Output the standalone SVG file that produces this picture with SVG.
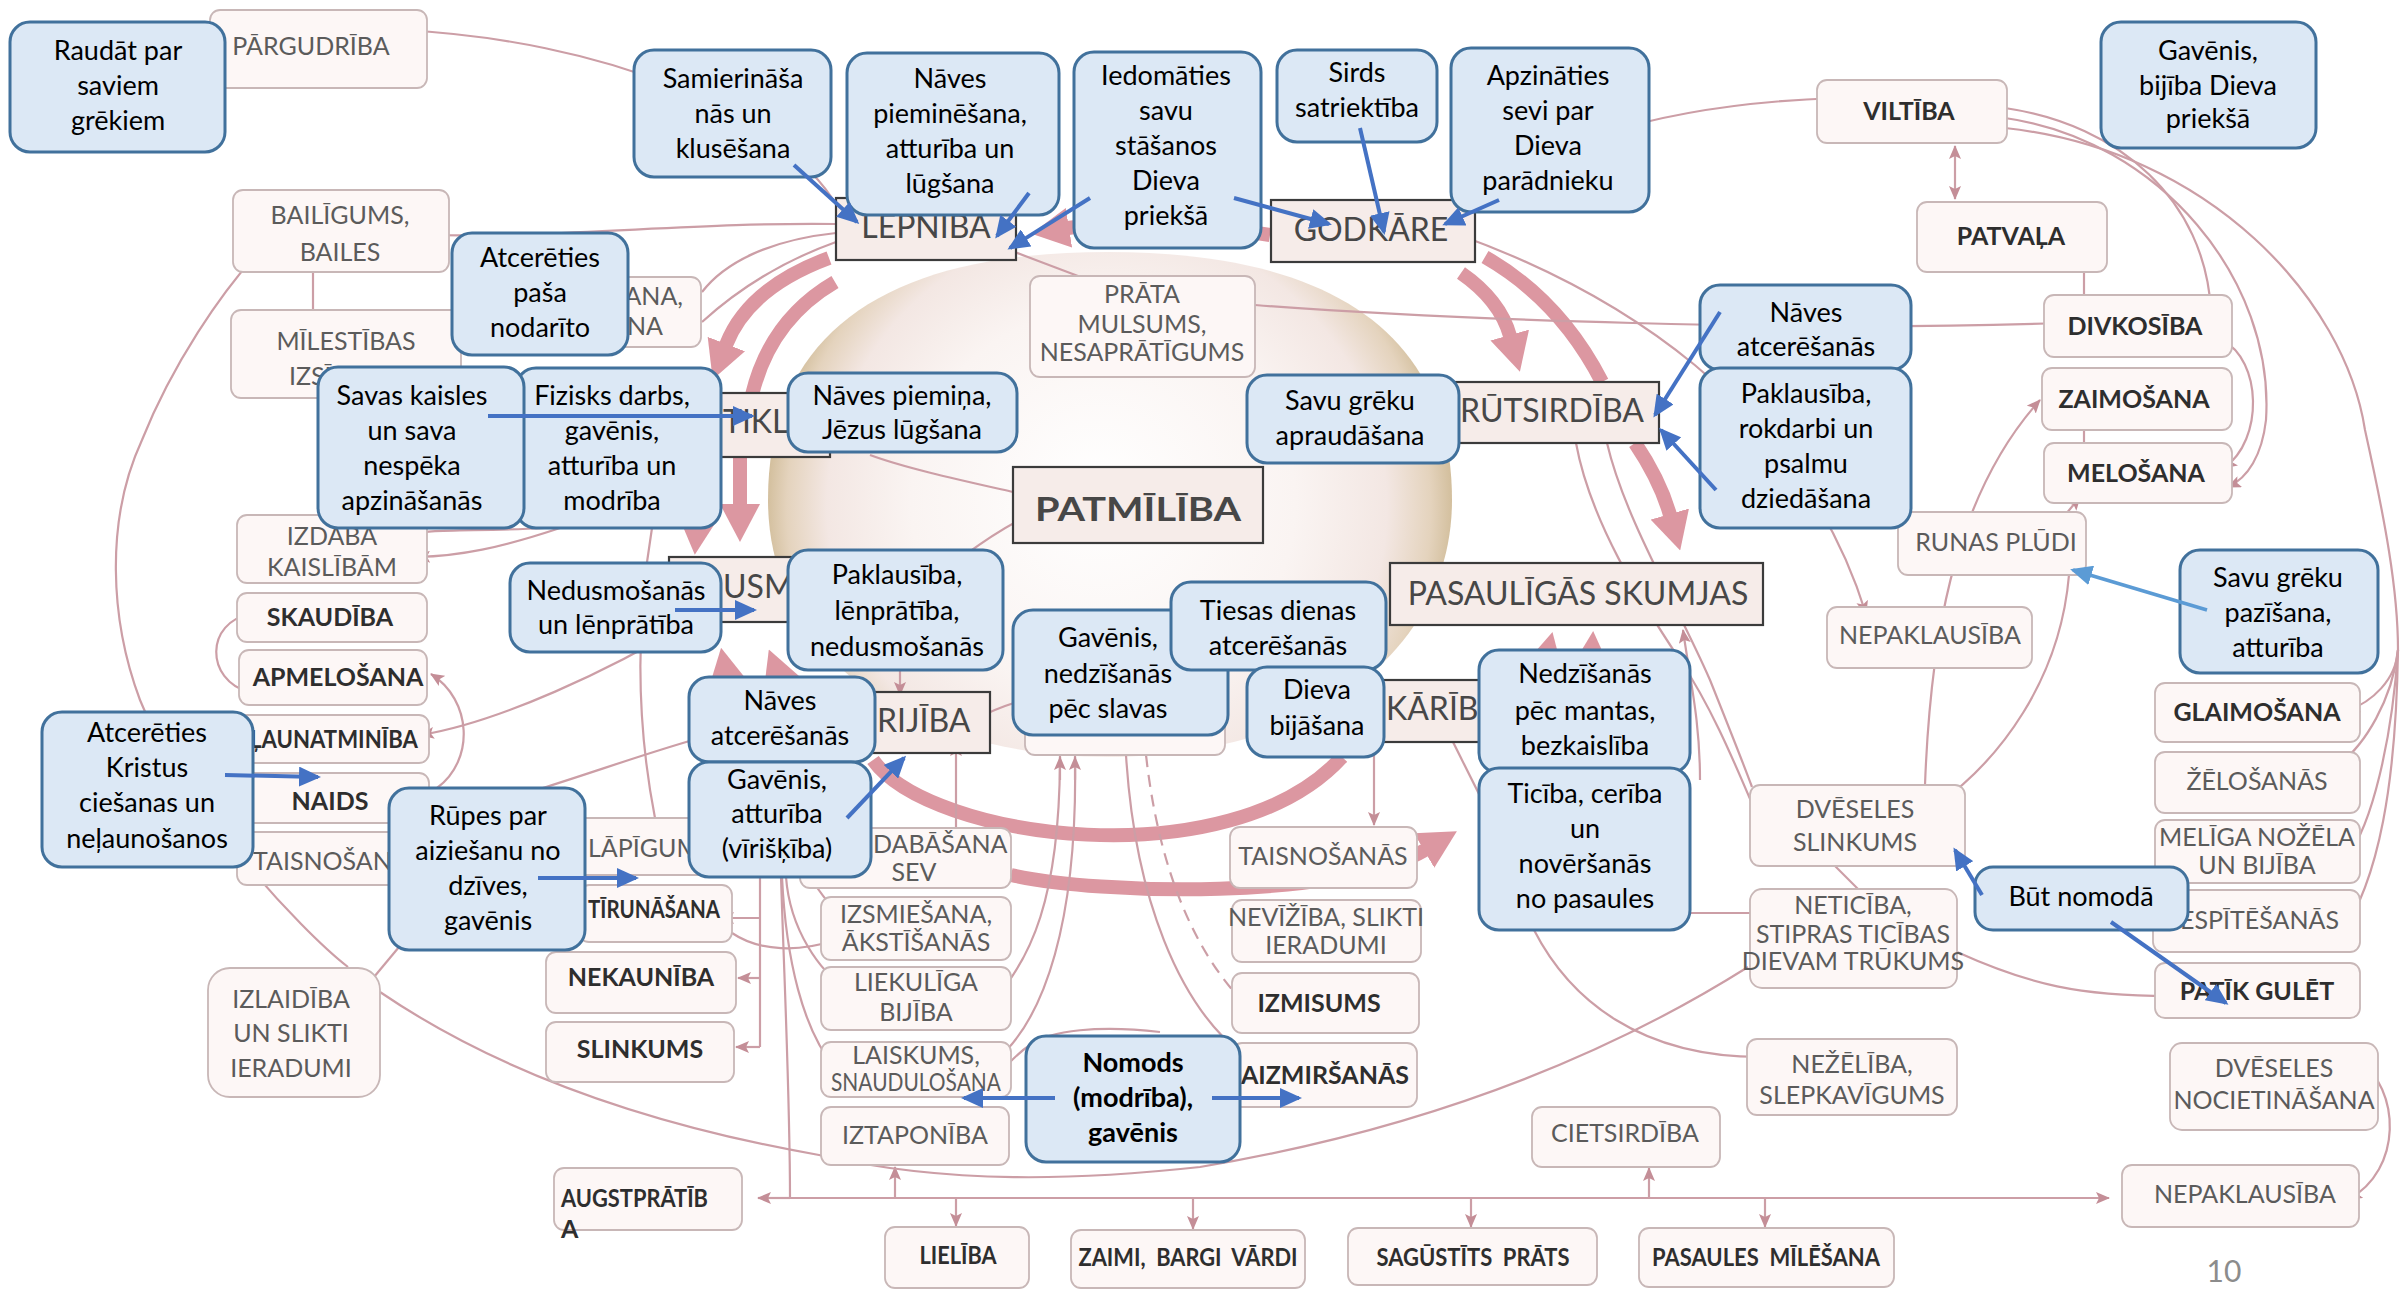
<svg xmlns="http://www.w3.org/2000/svg" width="2402" height="1290" viewBox="0 0 2402 1290">
<defs>
<style>
.cb{fill:#dce8f5;stroke:#41719c;stroke-width:3}
.ct{font-family:Lato,'Noto Sans','DejaVu Sans',sans-serif;font-size:27px;fill:#000;text-anchor:middle}
.bd{font-weight:bold}
.nb{fill:#fdf7f6;stroke:#c8b7b7;stroke-width:1.8}
.nt{font-family:Lato,'Noto Sans','DejaVu Sans',sans-serif;font-size:25px;fill:#5b5b5b;text-anchor:middle}
.nk{font-weight:bold;fill:#2e2e2e}
.mb{fill:#f6ece9;stroke:#3b3b3b;stroke-width:2.2}
.mt{font-family:Lato,'Noto Sans','DejaVu Sans',sans-serif;font-size:32px;fill:#474747}
.s{text-anchor:start}
.e{text-anchor:end}
.m{text-anchor:middle}
.pl{fill:none;stroke:#cc9ea6;stroke-width:2.2}
.tk{fill:none;stroke:#dc97a1;stroke-width:14}
.bl{fill:none;stroke:#4472c4;stroke-width:4}
</style>
<radialGradient id="sph" gradientUnits="userSpaceOnUse" cx="1110" cy="510" r="350" fx="1095" fy="490">
<stop offset="0" stop-color="#ffffff"/>
<stop offset="0.55" stop-color="#faf4f2"/>
<stop offset="0.8" stop-color="#f3e7e3"/>
<stop offset="0.92" stop-color="#e4d3bd"/>
<stop offset="1" stop-color="#cdb892"/>
</radialGradient>
<marker id="pa" viewBox="0 0 14 12" refX="13" refY="6" markerWidth="14" markerHeight="12" markerUnits="userSpaceOnUse" orient="auto-start-reverse"><path d="M0,0 L14,6 L0,12 L3,6 z" fill="#c48e97"/></marker>
<marker id="ba" viewBox="0 0 22 20" refX="19" refY="10" markerWidth="22" markerHeight="20" markerUnits="userSpaceOnUse" orient="auto"><path d="M0,0 L22,10 L0,20 z" fill="#4472c4"/></marker>
<marker id="bb" viewBox="0 0 22 20" refX="19" refY="10" markerWidth="22" markerHeight="20" markerUnits="userSpaceOnUse" orient="auto"><path d="M0,0 L22,10 L0,20 z" fill="#5b9bd5"/></marker>
<marker id="tk" viewBox="0 0 38 40" refX="1" refY="20" markerWidth="38" markerHeight="40" markerUnits="userSpaceOnUse" orient="auto"><path d="M0,0 L38,20 L0,40 z" fill="#dc97a1"/></marker>
</defs>
<rect width="2402" height="1290" fill="#ffffff"/>

<g id="sphere">
<path d="M768,500 C768,330 890,252 1108,252 C1326,252 1452,330 1452,500 C1452,640 1330,755 1108,757 C886,755 768,640 768,500 Z" fill="url(#sph)"/>
</g>

<g id="connectors">
<g id="thick-arrows">
<path class="tk" d="M829,258 Q748,288 726,345" marker-end="url(#tk)"/>
<path class="tk" d="M835,282 Q770,320 752,395"/>
<path class="tk" d="M705,470 Q700,495 698,518" marker-end="url(#tk)"/>
<path class="tk" d="M740,457 L740,505" marker-end="url(#tk)"/>
<path class="tk" d="M740,730 Q732,705 728,684" marker-end="url(#tk)"/>
<path class="tk" d="M800,730 Q790,705 782,684" marker-end="url(#tk)"/>
<path class="tk" d="M1461,273 Q1500,300 1510,336" marker-end="url(#tk)"/>
<path class="tk" d="M1485,257 Q1560,300 1602,382"/>
<path class="tk" d="M1635,443 Q1660,480 1670,515" marker-end="url(#tk)"/>
<path class="tk" d="M1270,235 Q1150,215 1068,228" marker-end="url(#tk)"/>
<path class="tk" d="M1530,700 Q1540,685 1544,668" marker-end="url(#tk)"/>
<path class="tk" d="M1585,700 Q1590,685 1591,668" marker-end="url(#tk)"/>
<path class="tk" d="M873,760 C930,840 1230,880 1342,757"/>
<path class="tk" d="M1011,875 C1100,895 1340,900 1425,850" marker-end="url(#tk)"/>
</g>
<g id="thin-lines">
<path class="pl" d="M837,206 C780,110 600,40 402,30" marker-end="url(#pa)"/>
<path class="pl" d="M836,224 C700,222 560,238 426,235" marker-end="url(#pa)"/>
<path class="pl" d="M836,233 C770,240 725,262 702,292"/>
<path class="pl" d="M836,242 C780,262 735,292 702,322"/>
<path class="pl" d="M1004,248 C1030,258 1052,266 1078,276"/>
<path class="pl" d="M1462,205 C1540,150 1640,105 1836,98" marker-end="url(#pa)"/>
<path class="pl" d="M1462,236 C1610,290 1800,400 1866,614" marker-end="url(#pa)"/>
<path class="pl" d="M1255,305 C1450,320 1800,332 2060,323" marker-end="url(#pa)"/>
<path class="pl" d="M1955,146 L1955,199" marker-start="url(#pa)" marker-end="url(#pa)"/>
<path class="pl" d="M2084,272 L2084,312" marker-end="url(#pa)"/>
<path class="pl" d="M2084,430 L2084,457" marker-end="url(#pa)"/>
<path class="pl" d="M2005,108 C2120,125 2205,200 2211,311" marker-end="url(#pa)"/>
<path class="pl" d="M2005,118 C2160,140 2275,280 2266,420 C2262,455 2248,478 2228,487" marker-end="url(#pa)"/>
<path class="pl" d="M2222,340 C2262,360 2264,440 2224,468" marker-end="url(#pa)"/>
<path class="pl" d="M2005,128 C2210,150 2345,300 2365,430 C2385,520 2398,590 2398,650"/>
<path class="pl" d="M2398,650 C2396,680 2372,702 2347,711" marker-end="url(#pa)"/>
<path class="pl" d="M2398,650 C2392,700 2365,745 2339,764" marker-end="url(#pa)"/>
<path class="pl" d="M2398,650 C2392,740 2372,825 2347,857" marker-end="url(#pa)"/>
<path class="pl" d="M2398,650 C2396,780 2380,880 2339,938" marker-end="url(#pa)"/>
<path class="pl" d="M2061,520 L2080,497" marker-end="url(#pa)"/>
<path class="pl" d="M1925,785 C1930,650 1950,500 2040,400" marker-end="url(#pa)"/>
<path class="pl" d="M2069,575 C2060,680 2000,760 1937,805" marker-end="url(#pa)"/>
<path class="pl" d="M1957,952 C2030,985 2080,996 2170,996" marker-end="url(#pa)"/>
<path class="pl" d="M2357,1058 C2402,1090 2402,1170 2349,1199" marker-end="url(#pa)"/>
<path class="pl" d="M790,1198 L758,1198" marker-end="url(#pa)"/>
<path class="pl" d="M790,1198 L2109,1198" marker-end="url(#pa)"/>
<path class="pl" d="M781,877 C785,1000 790,1100 790,1198"/>
<path class="pl" d="M895,1198 L895,1167" marker-end="url(#pa)"/>
<path class="pl" d="M956,1198 L956,1226" marker-end="url(#pa)"/>
<path class="pl" d="M1193,1198 L1193,1229" marker-end="url(#pa)"/>
<path class="pl" d="M1471,1198 L1471,1227" marker-end="url(#pa)"/>
<path class="pl" d="M1649,1198 L1649,1168" marker-end="url(#pa)"/>
<path class="pl" d="M1765,1198 L1765,1227" marker-end="url(#pa)"/>
<path class="pl" d="M1690,913 L1750,913"/>
<path class="pl" d="M1534,930 C1570,1000 1640,1057 1761,1057" marker-end="url(#pa)"/>
<path class="pl" d="M380,992 C480,1060 620,1120 819,1155 C950,1185 1080,1180 1200,1167 C1420,1130 1600,1060 1748,967"/>
<path class="pl" d="M374,977 L399,947"/>
<path class="pl" d="M348,967 C300,930 180,800 140,700 C110,620 105,520 142,440 C170,370 220,290 271,239" marker-end="url(#pa)"/>
<path class="pl" d="M249,692 C205,680 205,622 251,614" marker-end="url(#pa)"/>
<path class="pl" d="M437,788 C475,760 472,700 431,674" marker-end="url(#pa)"/>
<path class="pl" d="M690,622 C610,670 500,722 421,735" marker-end="url(#pa)"/>
<path class="pl" d="M700,738 C650,752 600,770 546,787 C520,795 500,800 470,808"/>
<path class="pl" d="M560,528 C500,548 460,556 417,557" marker-end="url(#pa)"/>
<path class="pl" d="M545,528 C470,532 430,528 401,536" marker-end="url(#pa)"/>
<path class="pl" d="M652,528 C640,600 632,700 655,818"/>
<path class="pl" d="M760,877 L760,1047"/>
<path class="pl" d="M760,918 L721,918" marker-end="url(#pa)"/>
<path class="pl" d="M760,978 L738,978" marker-end="url(#pa)"/>
<path class="pl" d="M760,1047 L736,1047" marker-end="url(#pa)"/>
<path class="pl" d="M810,877 C820,893 830,905 839,915" marker-end="url(#pa)"/>
<path class="pl" d="M786,877 C790,930 820,972 847,989" marker-end="url(#pa)"/>
<path class="pl" d="M782,877 C786,960 803,1030 835,1068" marker-end="url(#pa)"/>
<path class="pl" d="M732,933 C760,952 800,952 835,940" marker-end="url(#pa)"/>
<path class="pl" d="M1060,755 C1060,900 1030,960 993,1001" marker-end="url(#pa)"/>
<path class="pl" d="M1075,755 C1078,920 1045,1020 995,1061" marker-end="url(#pa)"/>
<path class="pl" d="M1060,780 L1060,757" marker-end="url(#pa)"/>
<path class="pl" d="M1075,780 L1075,757" marker-end="url(#pa)"/>
<path class="pl" d="M1126,755 C1135,900 1180,1005 1241,1053" marker-end="url(#pa)"/>
<path class="pl" d="M1146,755 C1160,880 1200,960 1249,1008" stroke-dasharray="12,8" marker-end="url(#pa)"/>
<path class="pl" d="M1160,1032 C1100,1025 1050,1030 1030,1045 C1015,1055 1005,1067 997,1078" marker-end="url(#pa)"/>
<path class="pl" d="M900,670 L900,695" marker-end="url(#pa)"/>
<path class="pl" d="M1030,698 C1005,705 988,712 974,720" marker-end="url(#pa)"/>
<path class="pl" d="M956,828 L956,743" marker-end="url(#pa)"/>
<path class="pl" d="M1013,492 C960,480 905,468 870,455"/>
<path class="pl" d="M1023,518 C1000,530 985,540 965,555"/>
<path class="pl" d="M1374,742 L1374,825" marker-end="url(#pa)"/>
<path class="pl" d="M1453,742 L1482,800"/>
<path class="pl" d="M1576,443 C1590,520 1640,600 1680,660 C1720,720 1745,790 1767,838" marker-end="url(#pa)"/>
<path class="pl" d="M1607,443 C1625,520 1680,610 1710,680 C1730,730 1742,760 1752,787"/>
<path class="pl" d="M1700,780 C1700,720 1690,680 1683,630" marker-end="url(#pa)"/>
<path class="pl" d="M1835,866 L1858,889"/>
<path class="pl" d="M313,272 L313,310"/>
</g>
</g>

<g id="nodes">
<g id="n-pargudriba"><rect class="nb" x="210" y="10" width="217" height="78" rx="10"/><text class="nt" x="311" y="55" font-size="28">PĀRGUDRĪBA</text></g>
<g id="n-bailigums"><rect class="nb" x="233" y="190" width="216" height="82" rx="10"/><text class="nt" x="340" y="224" font-size="30">BAILĪGUMS,</text><text class="nt" x="340" y="261" font-size="30">BAILES</text></g>
<g id="n-milestibas"><rect class="nb" x="231" y="310" width="230" height="88" rx="10"/><text class="nt" x="346" y="350" font-size="26">MĪLESTĪBAS</text><text class="nt s" x="289" y="385" font-size="26">IZSĪ</text></g>
<g id="n-ana"><rect class="nb" x="580" y="277" width="121" height="70" rx="10"/><text class="nt e" x="683" y="305">ANA,</text><text class="nt e" x="663" y="335">NA</text></g>
<g id="n-prata"><rect class="nb" x="1030" y="276" width="225" height="101" rx="10"/><text class="nt" x="1142" y="303" font-size="20">PRĀTA</text><text class="nt" x="1142" y="333" font-size="20">MULSUMS,</text><text class="nt" x="1142" y="361" font-size="19">NESAPRĀTĪGUMS</text></g>
<g id="n-viltiba"><rect class="nb" x="1817" y="80" width="190" height="63" rx="10"/><text class="nt nk" x="1909" y="120">VILTĪBA</text></g>
<g id="n-patvala"><rect class="nb" x="1917" y="202" width="190" height="70" rx="10"/><text class="nt nk" x="2011" y="245">PATVAĻA</text></g>
<g id="n-divkosiba"><rect class="nb" x="2044" y="295" width="188" height="62" rx="10"/><text class="nt nk" x="2135" y="335">DIVKOSĪBA</text></g>
<g id="n-zaimosana"><rect class="nb" x="2042" y="368" width="190" height="62" rx="10"/><text class="nt nk" x="2134" y="408">ZAIMOŠANA</text></g>
<g id="n-melosana"><rect class="nb" x="2044" y="443" width="188" height="60" rx="10"/><text class="nt nk" x="2136" y="482">MELOŠANA</text></g>
<g id="n-runas"><rect class="nb" x="1898" y="512" width="188" height="63" rx="10"/><text class="nt" x="1996" y="551">RUNAS PLŪDI</text></g>
<g id="n-nepaklausiba1"><rect class="nb" x="1827" y="607" width="205" height="61" rx="10"/><text class="nt" x="1930" y="644">NEPAKLAUSĪBA</text></g>
<g id="n-glaimosana"><rect class="nb" x="2155" y="683" width="205" height="59" rx="10"/><text class="nt nk" x="2257" y="721">GLAIMOŠANA</text></g>
<g id="n-zelosanas"><rect class="nb" x="2155" y="752" width="205" height="61" rx="10"/><text class="nt" x="2257" y="790">ŽĒLOŠANĀS</text></g>
<g id="n-meliga"><rect class="nb" x="2155" y="820" width="205" height="63" rx="10"/><text class="nt" x="2257" y="846" font-size="18">MELĪGA NOŽĒLA</text><text class="nt" x="2257" y="874" font-size="18">UN BIJĪBA</text></g>
<g id="n-spitesanas"><rect class="nb" x="2153" y="890" width="207" height="62" rx="10"/><text class="nt e" x="2339" y="929">ESPĪTĒŠANĀS</text></g>
<g id="n-patikgulet"><rect class="nb" x="2155" y="963" width="205" height="55" rx="10"/><text class="nt nk" x="2257" y="1000">PATĪK GULĒT</text></g>
<g id="n-nocietinasana"><rect class="nb" x="2170" y="1043" width="208" height="87" rx="12"/><text class="nt" x="2274" y="1077">DVĒSELES</text><text class="nt" x="2274" y="1109" font-size="24">NOCIETINĀŠANA</text></g>
<g id="n-nepaklausiba2"><rect class="nb" x="2122" y="1165" width="237" height="62" rx="10"/><text class="nt" x="2245" y="1203">NEPAKLAUSĪBA</text></g>
<g id="n-dveseles-slinkums"><rect class="nb" x="1750" y="785" width="215" height="81" rx="10"/><text class="nt" x="1855" y="818">DVĒSELES</text><text class="nt" x="1855" y="851">SLINKUMS</text></g>
<g id="n-neticiba"><rect class="nb" x="1750" y="889" width="207" height="99" rx="12"/><text class="nt" x="1853" y="914" font-size="18">NETICĪBA,</text><text class="nt" x="1853" y="943" font-size="18">STIPRAS TICĪBAS</text><text class="nt" x="1853" y="970" font-size="18">DIEVAM TRŪKUMS</text></g>
<g id="n-nezeliba"><rect class="nb" x="1747" y="1039" width="210" height="76" rx="10"/><text class="nt" x="1852" y="1073">NEŽĒLĪBA,</text><text class="nt" x="1852" y="1104">SLEPKAVĪGUMS</text></g>
<g id="n-cietsirdiba"><rect class="nb" x="1532" y="1107" width="188" height="60" rx="10"/><text class="nt" x="1625" y="1142">CIETSIRDĪBA</text></g>
<g id="n-pasaules"><rect class="nb" x="1639" y="1228" width="255" height="59" rx="10"/><text class="nt nk" x="1766" y="1266" font-size="21" xml:space="preserve" textLength="228" lengthAdjust="spacingAndGlyphs" fill="#3a3a3a">PASAULES  MĪLĒŠANA</text></g>
<g id="n-sagustits"><rect class="nb" x="1348" y="1228" width="249" height="57" rx="10"/><text class="nt nk" x="1473" y="1266" font-size="21" xml:space="preserve" textLength="193" lengthAdjust="spacingAndGlyphs">SAGŪSTĪTS  PRĀTS</text></g>
<g id="n-zaimi"><rect class="nb" x="1071" y="1230" width="234" height="58" rx="10"/><text class="nt nk" x="1188" y="1266" font-size="21" xml:space="preserve" textLength="219" lengthAdjust="spacingAndGlyphs">ZAIMI,  BARGI  VĀRDI</text></g>
<g id="n-lieliba"><rect class="nb" x="885" y="1227" width="144" height="61" rx="10"/><text class="nt nk" x="958" y="1264" font-size="21" textLength="77" lengthAdjust="spacingAndGlyphs">LIELĪBA</text></g>
<g id="n-augstpratiba"><rect class="nb" x="554" y="1168" width="188" height="62" rx="10"/><text class="nt nk s" x="561" y="1207" font-size="21" textLength="147" lengthAdjust="spacingAndGlyphs">AUGSTPRĀTĪB</text><text class="nt nk s" x="561" y="1238" font-size="21">A</text></g>
<g id="n-iztaponiba"><rect class="nb" x="821" y="1107" width="188" height="58" rx="10"/><text class="nt" x="915" y="1144" font-size="20">IZTAPONĪBA</text></g>
<g id="n-laiskums"><rect class="nb" x="821" y="1042" width="190" height="55" rx="10"/><text class="nt" x="916" y="1064" font-size="20" fill="#444">LAISKUMS,</text><text class="nt" x="916" y="1091" font-size="20" fill="#444" textLength="170" lengthAdjust="spacingAndGlyphs">SNAUDULOŠANA</text></g>
<g id="n-liekuliga"><rect class="nb" x="821" y="967" width="190" height="63" rx="10"/><text class="nt" x="916" y="991" font-size="19">LIEKULĪGA</text><text class="nt" x="916" y="1021" font-size="19">BIJĪBA</text></g>
<g id="n-izsmiesana"><rect class="nb" x="821" y="897" width="190" height="63" rx="10"/><text class="nt" x="916" y="923" font-size="19">IZSMIEŠANA,</text><text class="nt" x="916" y="951" font-size="19">ĀKSTĪŠANĀS</text></g>
<g id="n-dabasana"><rect class="nb" x="800" y="828" width="211" height="60" rx="10"/><text class="nt s" x="873" y="853" font-size="19">DABĀŠANA</text><text class="nt" x="914" y="881" font-size="19">SEV</text></g>
<g id="n-tirunasana"><rect class="nb" x="579" y="885" width="153" height="57" rx="10"/><text class="nt nk e" x="720" y="918" font-size="20" fill="#3a3a3a" textLength="132" lengthAdjust="spacingAndGlyphs">TĪRUNĀŠANA</text></g>
<g id="n-nekauniba"><rect class="nb" x="546" y="952" width="190" height="61" rx="10"/><text class="nt nk" x="641" y="986" font-size="26">NEKAUNĪBA</text></g>
<g id="n-slinkums"><rect class="nb" x="546" y="1022" width="188" height="60" rx="10"/><text class="nt nk" x="640" y="1058" font-size="26">SLINKUMS</text></g>
<g id="n-lapigum"><rect class="nb" x="575" y="818" width="165" height="57" rx="10"/><text class="nt s" x="588" y="857">LĀPĪGUM</text></g>
<g id="n-taisnosanas-left"><rect class="nb" x="237" y="832" width="183" height="53" rx="10"/><text class="nt s" x="253" y="870">TAISNOŠANĀS</text></g>
<g id="n-izlaidiba"><rect class="nb" x="208" y="968" width="172" height="129" rx="22"/><text class="nt" x="291" y="1008">IZLAIDĪBA</text><text class="nt" x="291" y="1042">UN SLIKTI</text><text class="nt" x="291" y="1077">IERADUMI</text></g>
<g id="n-izdaba"><rect class="nb" x="237" y="515" width="190" height="68" rx="10"/><text class="nt" x="332" y="545">IZDABA</text><text class="nt" x="332" y="576">KAISLĪBĀM</text></g>
<g id="n-skaudiba"><rect class="nb" x="237" y="593" width="190" height="49" rx="10"/><text class="nt nk" x="330" y="626" font-size="27">SKAUDĪBA</text></g>
<g id="n-apmelosana"><rect class="nb" x="239" y="650" width="188" height="55" rx="10"/><text class="nt nk" x="338" y="686">APMELOŠANA</text></g>
<g id="n-launatminiba"><rect class="nb" x="237" y="715" width="192" height="48" rx="10"/><text class="nt nk" x="334" y="748" font-size="21" textLength="168" lengthAdjust="spacingAndGlyphs">ĻAUNATMINĪBA</text></g>
<g id="n-naids"><rect class="nb" x="237" y="773" width="192" height="50" rx="10"/><text class="nt nk" x="330" y="810" font-size="26">NAIDS</text></g>
<g id="n-taisnosanas-mid"><rect class="nb" x="1230" y="827" width="187" height="61" rx="10"/><text class="nt" x="1323" y="865">TAISNOŠANĀS</text></g>
<g id="n-neviziba"><rect class="nb" x="1232" y="900" width="189" height="62" rx="10"/><text class="nt" x="1326" y="926" font-size="18">NEVĪŽĪBA, SLIKTI</text><text class="nt" x="1326" y="954" font-size="18">IERADUMI</text></g>
<g id="n-izmisums"><rect class="nb" x="1232" y="973" width="187" height="60" rx="10"/><text class="nt nk" x="1319" y="1012" font-size="26">IZMISUMS</text></g>
<g id="n-aizmirsanas"><rect class="nb" x="1232" y="1043" width="185" height="64" rx="10"/><text class="nt nk" x="1325" y="1084">AIZMIRŠANĀS</text></g>
<g id="n-hidden"><rect class="nb" x="1025" y="700" width="200" height="55" rx="10"/></g>

<g id="m-lepniba"><rect class="mb" x="836" y="198" width="180" height="62"/><text class="mt m" x="926" y="238">LEPNĪBA</text></g>
<g id="m-godkare"><rect class="mb" x="1271" y="200" width="204" height="62"/><text class="mt m" x="1371" y="241">GODKĀRE</text></g>
<g id="m-tikliba"><rect class="mb" x="690" y="393" width="140" height="64"/><text class="mt" x="723" y="433">TIKLĪ</text></g>
<g id="m-dusmas"><rect class="mb" x="669" y="557" width="150" height="65"/><text class="mt" x="723" y="598">USMA</text></g>
<g id="m-rijiba"><rect class="mb" x="700" y="692" width="290" height="61"/><text class="mt" x="877" y="732">RIJĪBA</text></g>
<g id="m-kariba"><rect class="mb" x="1300" y="680" width="200" height="62"/><text class="mt" x="1386" y="720">KĀRĪBA</text></g>
<g id="m-grutsirdiba"><rect class="mb" x="1440" y="382" width="219" height="61"/><text class="mt" x="1460" y="422">RŪTSIRDĪBA</text></g>
<g id="m-skumjas"><rect class="mb" x="1390" y="563" width="373" height="62"/><text class="mt m" x="1578" y="605" font-size="31">PASAULĪGĀS SKUMJAS</text></g>
<g id="m-patmiliba"><rect class="mb" x="1013" y="467" width="250" height="76"/><text class="mt m bd" x="1138" y="521" font-size="42" fill="#1e1e1e" textLength="206" lengthAdjust="spacingAndGlyphs">PATMĪLĪBA</text></g>
</g>

<g id="callouts">
<g id="c-raudat"><rect class="cb" x="10" y="22" width="215" height="130" rx="20"/><text class="ct" x="118" y="60">Raudāt par</text><text class="ct" x="118" y="95">saviem</text><text class="ct" x="118" y="130">grēkiem</text></g>
<g id="c-samierinasana"><rect class="cb" x="634" y="50" width="197" height="127" rx="20"/><text class="ct" x="733" y="88">Samierināša</text><text class="ct" x="733" y="123">nās un</text><text class="ct" x="733" y="158">klusēšana</text></g>
<g id="c-naves-pieminesana"><rect class="cb" x="847" y="53" width="212" height="162" rx="20"/><text class="ct" x="950" y="88">Nāves</text><text class="ct" x="950" y="123">pieminēšana,</text><text class="ct" x="950" y="158">atturība un</text><text class="ct" x="950" y="193">lūgšana</text></g>
<g id="c-iedomaties"><rect class="cb" x="1074" y="52" width="187" height="196" rx="20"/><text class="ct" x="1166" y="85">Iedomāties</text><text class="ct" x="1166" y="120">savu</text><text class="ct" x="1166" y="155">stāšanos</text><text class="ct" x="1166" y="190">Dieva</text><text class="ct" x="1166" y="225">priekšā</text></g>
<g id="c-sirds"><rect class="cb" x="1277" y="50" width="160" height="92" rx="20"/><text class="ct" x="1357" y="82">Sirds</text><text class="ct" x="1357" y="117">satriektība</text></g>
<g id="c-apzinaties"><rect class="cb" x="1451" y="48" width="198" height="164" rx="20"/><text class="ct" x="1548" y="85">Apzināties</text><text class="ct" x="1548" y="120">sevi par</text><text class="ct" x="1548" y="155">Dieva</text><text class="ct" x="1548" y="190">parādnieku</text></g>
<g id="c-gavenis-bijiba"><rect class="cb" x="2101" y="22" width="215" height="126" rx="20"/><text class="ct" x="2208" y="60">Gavēnis,</text><text class="ct" x="2208" y="95">bijība Dieva</text><text class="ct" x="2208" y="128">priekšā</text></g>
<g id="c-atceraties-pasa"><rect class="cb" x="452" y="233" width="176" height="122" rx="20"/><text class="ct" x="540" y="267">Atcerēties</text><text class="ct" x="540" y="302">paša</text><text class="ct" x="540" y="337">nodarīto</text></g>
<g id="c-fizisks"><rect class="cb" x="516" y="368" width="205" height="160" rx="20"/><text class="ct" x="612" y="405">Fizisks darbs,</text><text class="ct" x="612" y="440">gavēnis,</text><text class="ct" x="612" y="475">atturība un</text><text class="ct" x="612" y="510">modrība</text></g>
<g id="c-savas-kaisles"><rect class="cb" x="318" y="367" width="206" height="161" rx="20"/><text class="ct" x="412" y="405">Savas kaisles</text><text class="ct" x="412" y="440">un sava</text><text class="ct" x="412" y="475">nespēka</text><text class="ct" x="412" y="510">apzināšanās</text></g>
<g id="c-naves-piemina"><rect class="cb" x="788" y="373" width="229" height="79" rx="20"/><text class="ct" x="902" y="405">Nāves piemiņa,</text><text class="ct" x="902" y="439">Jēzus lūgšana</text></g>
<g id="c-savu-greku-apraud"><rect class="cb" x="1247" y="375" width="212" height="88" rx="20"/><text class="ct" x="1350" y="410">Savu grēku</text><text class="ct" x="1350" y="445">apraudāšana</text></g>
<g id="c-naves-atcer-r"><rect class="cb" x="1700" y="285" width="211" height="85" rx="20"/><text class="ct" x="1806" y="322">Nāves</text><text class="ct" x="1806" y="356">atcerēšanās</text></g>
<g id="c-paklausiba-rokdarbi"><rect class="cb" x="1700" y="368" width="211" height="160" rx="20"/><text class="ct" x="1806" y="403">Paklausība,</text><text class="ct" x="1806" y="438">rokdarbi un</text><text class="ct" x="1806" y="473">psalmu</text><text class="ct" x="1806" y="508">dziedāšana</text></g>
<g id="c-savu-greku-paz"><rect class="cb" x="2180" y="550" width="198" height="123" rx="20"/><text class="ct" x="2278" y="587">Savu grēku</text><text class="ct" x="2278" y="622">pazīšana,</text><text class="ct" x="2278" y="657">atturība</text></g>
<g id="c-nedusmosanas"><rect class="cb" x="510" y="563" width="211" height="89" rx="20"/><text class="ct" x="616" y="600">Nedusmošanās</text><text class="ct" x="616" y="634">un lēnprātība</text></g>
<g id="c-paklausiba-lenpr"><rect class="cb" x="788" y="550" width="215" height="120" rx="20"/><text class="ct" x="897" y="584">Paklausība,</text><text class="ct" x="897" y="620">lēnprātība,</text><text class="ct" x="897" y="656">nedusmošanās</text></g>
<g id="c-gavenis-slavas"><rect class="cb" x="1013" y="610" width="215" height="125" rx="20"/><text class="ct" x="1108" y="647">Gavēnis,</text><text class="ct" x="1108" y="683">nedzīšanās</text><text class="ct" x="1108" y="718">pēc slavas</text></g>
<g id="c-tiesas"><rect class="cb" x="1171" y="582" width="215" height="88" rx="20"/><text class="ct" x="1278" y="620">Tiesas dienas</text><text class="ct" x="1278" y="655">atcerēšanās</text></g>
<g id="c-dieva-bijasana"><rect class="cb" x="1247" y="667" width="137" height="90" rx="20"/><text class="ct" x="1317" y="699">Dieva</text><text class="ct" x="1317" y="735">bijāšana</text></g>
<g id="c-nedzisanas-mantas"><rect class="cb" x="1479" y="650" width="211" height="123" rx="20"/><text class="ct" x="1585" y="683">Nedzīšanās</text><text class="ct" x="1585" y="720">pēc mantas,</text><text class="ct" x="1585" y="755">bezkaislība</text></g>
<g id="c-ticiba"><rect class="cb" x="1479" y="768" width="211" height="162" rx="20"/><text class="ct" x="1585" y="803">Ticība, cerība</text><text class="ct" x="1585" y="838">un</text><text class="ct" x="1585" y="873">novēršanās</text><text class="ct" x="1585" y="908">no pasaules</text></g>
<g id="c-kristus"><rect class="cb" x="42" y="712" width="211" height="155" rx="20"/><text class="ct" x="147" y="742">Atcerēties</text><text class="ct" x="147" y="777">Kristus</text><text class="ct" x="147" y="812">ciešanas un</text><text class="ct" x="147" y="848">neļaunošanos</text></g>
<g id="c-naves-atcer-l"><rect class="cb" x="689" y="677" width="186" height="85" rx="20"/><text class="ct" x="780" y="710">Nāves</text><text class="ct" x="780" y="745">atcerēšanās</text></g>
<g id="c-gavenis-virisk"><rect class="cb" x="689" y="762" width="182" height="115" rx="20"/><text class="ct" x="777" y="789">Gavēnis,</text><text class="ct" x="777" y="823">atturība</text><text class="ct" x="777" y="858">(vīrišķība)</text></g>
<g id="c-rupes"><rect class="cb" x="389" y="788" width="196" height="162" rx="20"/><text class="ct" x="488" y="825">Rūpes par</text><text class="ct" x="488" y="860">aiziešanu no</text><text class="ct" x="488" y="895">dzīves,</text><text class="ct" x="488" y="930">gavēnis</text></g>
<g id="c-nomods"><rect class="cb" x="1026" y="1036" width="214" height="126" rx="20"/><text class="ct bd" x="1133" y="1072">Nomods</text><text class="ct bd" x="1133" y="1107">(modrība),</text><text class="ct bd" x="1133" y="1142">gavēnis</text></g>
<g id="c-but-nomoda"><rect class="cb" x="1975" y="867" width="213" height="63" rx="18"/><text class="ct" x="2081" y="906">Būt nomodā</text></g>
</g>

<g id="callout-arrows">
<path class="bl" d="M794,165 L857,222" marker-end="url(#ba)"/>
<path class="bl" d="M1029,193 L997,236" marker-end="url(#ba)"/>
<path class="bl" d="M1090,198 L1010,248" marker-end="url(#ba)"/>
<path class="bl" d="M1234,198 L1329,224" marker-end="url(#ba)"/>
<path class="bl" d="M1360,128 L1384,232" marker-end="url(#ba)"/>
<path class="bl" d="M1499,200 L1445,224" marker-end="url(#ba)"/>
<path class="bl" d="M488,416 L752,416" marker-end="url(#ba)"/>
<path class="bl" d="M1720,312 L1655,415" marker-end="url(#ba)"/>
<path class="bl" d="M1716,490 L1661,430" marker-end="url(#ba)"/>
<path class="bl" d="M675,610 L754,610" marker-end="url(#ba)"/>
<path class="bl" d="M225,775 L318,777" marker-end="url(#ba)"/>
<path class="bl" d="M538,878 L636,878" marker-end="url(#ba)"/>
<path class="bl" d="M847,818 L904,758" marker-end="url(#ba)"/>
<path class="bl" d="M1055,1098 L964,1098" marker-end="url(#ba)"/>
<path class="bl" d="M1212,1098 L1299,1098" marker-end="url(#ba)"/>
<path class="bl" d="M1982,895 L1955,850" marker-end="url(#ba)"/>
<path class="bl" d="M2111,922 L2226,1003" marker-end="url(#ba)"/>
<path fill="none" stroke="#5b9bd5" stroke-width="3.5" d="M2207,610 L2073,570" marker-end="url(#bb)"/>
</g>

<text x="2224" y="1282" font-family="Lato,'Noto Sans',sans-serif" font-size="30" fill="#8c8c8c" text-anchor="middle">10</text>
</svg>
